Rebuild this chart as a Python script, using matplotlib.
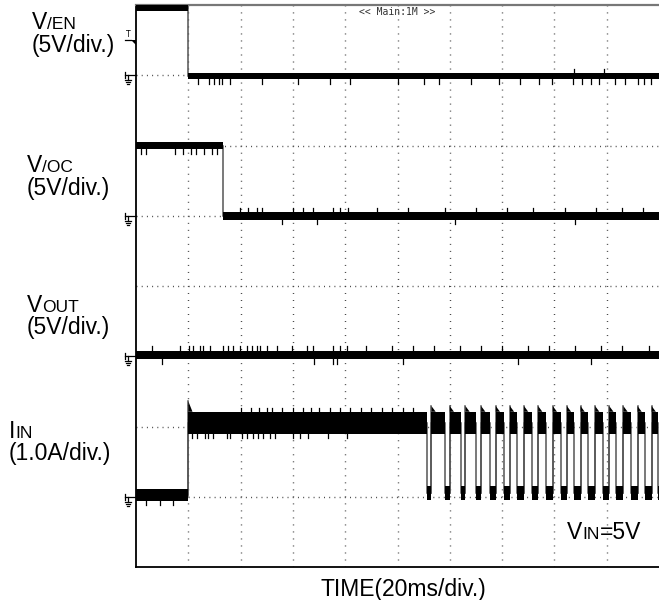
import matplotlib
matplotlib.use('Agg')
import matplotlib.pyplot as plt
import matplotlib.transforms as mtransforms

plt.rcParams['font.family'] = ['Liberation Sans', 'DejaVu Sans']

# scope screen: 10 x 8 divisions, time 20 ms/div, levels in divisions from the bottom
en_edges = [1.0]
en_levels = [7.955, 6.985]
en_ground = 7

oc_edges = [1.67]
oc_levels = [5.995, 5.0]
oc_ground = 5

vout_edges = []
vout_levels = [3.02]
vout_ground = 3

iin_edges = [1.0, 5.56, 5.65, 5.91, 6.00, 6.21, 6.30, 6.50, 6.60, 6.77, 6.88,
             7.04, 7.15, 7.29, 7.42, 7.57, 7.69, 7.84, 7.97, 8.12, 8.24, 8.38,
             8.50, 8.65, 8.78, 8.92, 9.05, 9.18, 9.32, 9.46, 9.59, 9.73, 9.86, 9.98]
iin_start = 1.03     # before enable
iin_low = 1.05       # off part of the hiccup
iin_high = 2.055
iin_ground = 1
trigger_level = 7.5

# glitches on the traces (time in div)
en_spikes_dn = [1.18, 1.40, 1.50, 1.58, 1.65, 1.80, 2.40, 3.10, 3.70, 4.10, 5.00, 5.50,
                5.80, 6.40, 6.95, 7.35, 7.70, 7.95, 8.35, 8.52, 8.70, 8.85, 9.15, 9.35,
                9.60, 9.72, 9.85]
en_spikes_up = [8.37, 8.95]
oc_spikes_dn = [0.10, 0.20, 0.75, 0.90, 1.05, 1.15, 1.30, 1.45, 1.55, 2.79, 3.46, 6.1, 8.4]
oc_spikes_up = [1.99, 2.14, 2.31, 2.41, 3.00, 3.19, 3.38, 3.77, 3.90, 4.05, 4.6, 5.2,
                5.9, 6.5, 7.1, 7.6, 8.2, 8.8, 9.3, 9.7]
vout_spikes_up = [0.30, 0.84, 1.01, 1.09, 1.22, 1.28, 1.41, 1.66, 1.76, 1.85, 1.99, 2.12,
                  2.22, 2.31, 2.37, 2.50, 2.70, 2.98, 3.27, 3.38, 3.77, 3.90, 4.03, 4.4,
                  4.9, 5.3, 5.7, 6.2, 6.6, 7.0, 7.5, 7.9, 8.4, 8.9, 9.3, 9.8]
vout_spikes_dn = [0.50, 3.40, 3.77, 3.85, 5.1, 7.3, 8.7]
iin_spikes_up = [2.0, 2.2, 2.35, 2.5, 2.6, 2.8, 3.0, 3.2, 3.35, 3.5, 3.7, 3.9, 4.1, 4.3,
                 4.5, 4.7, 4.9, 5.1, 5.3]
iin_spikes_dn = [1.08, 1.17, 1.32, 1.38, 1.48, 1.74, 1.80, 2.03, 2.12, 2.24, 2.33, 2.43,
                 2.56, 2.66, 3.00, 3.14, 3.29, 3.67, 4.03, 0.2, 0.45, 0.7]

fig = plt.figure(figsize=(6.59, 6.0), dpi=100)
ax = fig.add_axes([136 / 659, 33 / 600, 523 / 659, 562 / 600])
ax.set_xlim(0, 10)
ax.set_ylim(0, 8)

ax.set_xticks(range(1, 10))
ax.set_yticks(range(1, 8))
ax.tick_params(length=0, labelbottom=False, labelleft=False)
ax.xaxis.grid(True, linestyle=(0, (0.7, 4.35)), color='#444444', lw=1.0)
ax.yaxis.grid(True, linestyle=(0, (0.7, 3.05)), color='#444444', lw=1.0)
ax.set_axisbelow(True)
ax.spines['right'].set_visible(False)
ax.spines['top'].set_color('#777777')
ax.spines['top'].set_linewidth(1.6)
ax.spines['left'].set_linewidth(1.3)
ax.spines['bottom'].set_linewidth(1.3)

EDGE = '#555555'


def level_at(edges, levels, t):
    i = 0
    while i < len(edges) and t >= edges[i]:
        i += 1
    return levels[i]


def draw_trace(edges, levels, halves, up=(), dn=(), spike=0.07):
    bounds = [0.0] + list(edges) + [10.0]
    for i, lv in enumerate(levels):
        ax.fill_between([bounds[i], bounds[i + 1]], lv - halves[i], lv + halves[i],
                        color='black', lw=0, zorder=3)
    for i, t in enumerate(edges):
        ax.plot([t, t], [levels[i], levels[i + 1]], color=EDGE, lw=1.1, zorder=2)
    hv = {lv: h for lv, h in zip(levels, halves)}
    for t in up:
        lv = level_at(edges, levels, t)
        ax.plot([t, t], [lv + hv[lv], lv + hv[lv] + spike], color='black', lw=0.9, zorder=3)
    for t in dn:
        lv = level_at(edges, levels, t)
        ax.plot([t, t], [lv - hv[lv], lv - hv[lv] - spike], color='black', lw=0.9, zorder=3)


draw_trace(en_edges, en_levels, [0.045, 0.045], en_spikes_up, en_spikes_dn, 0.06)
ax.plot([en_edges[0], en_edges[0]], [en_levels[0], 8], color=EDGE, lw=1.1)
draw_trace(oc_edges, oc_levels, [0.05, 0.055], oc_spikes_up, oc_spikes_dn, 0.06)
draw_trace(vout_edges, vout_levels, [0.055], vout_spikes_up, vout_spikes_dn, 0.07)

iin_levels = [iin_low if i % 2 == 0 else iin_high for i in range(len(iin_edges) + 1)]
iin_levels[0] = iin_start
iin_halves = [0.155 if lv == iin_high else (0.085 if lv == iin_start else 0.1)
              for lv in iin_levels]
draw_trace(iin_edges, iin_levels, iin_halves, iin_spikes_up, iin_spikes_dn, 0.06)

# overshoot at every rising edge of the current
for i, t in enumerate(iin_edges):
    if iin_levels[i + 1] == iin_high:
        top = iin_high + 0.155
        peak = 2.36 if i == 0 else 2.29
        ax.fill([t, t, t + 0.08], [top, peak, top], color='black', lw=0, zorder=3)
        ax.plot([t, t], [iin_levels[i], peak], color=EDGE, lw=1.1, zorder=2)

# ground and trigger markers left of the screen
blend = mtransforms.blended_transform_factory(ax.transAxes, ax.transData)
px = 1 / 523
py = 1 / 70.25
for g in [en_ground, oc_ground, vout_ground, iin_ground]:
    kw = dict(transform=blend, clip_on=False, color='black', lw=0.9)
    ax.plot([-11 * px, 0], [g, g], **kw)
    ax.plot([-11 * px, -11 * px], [g + 3 * py, g - 3 * py], **kw)
    ax.plot([-8 * px, -8 * px], [g, g - 5 * py], **kw)
    ax.plot([-11 * px, -5 * px], [g - 5 * py, g - 5 * py], **kw)
    ax.plot([-10 * px, -6 * px], [g - 7 * py, g - 7 * py], **kw)
    ax.plot([-9 * px, -7 * px], [g - 9 * py, g - 9 * py], **kw)
ax.text(-8 * px, trigger_level + 1 * py, 'T', transform=blend, fontsize=5.5,
        ha='center', va='bottom', family='DejaVu Sans')
ax.plot([-11 * px, -5 * px], [trigger_level, trigger_level], transform=blend,
        clip_on=False, color='black', lw=0.9)
ax.fill([-5 * px, 0, 0], [trigger_level, trigger_level, trigger_level - 5 * py],
        transform=blend, clip_on=False, color='black', lw=0)

ax.text(5.0, 7.97, '<< Main:1M >>', fontsize=7, family='DejaVu Sans Mono',
        ha='center', va='top', color='#333333')

renderer = fig.canvas.get_renderer()


def rich(x, y, parts):
    for s, size in parts:
        t = fig.text(x / 659, 1 - y / 600, s, fontsize=size, va='baseline', ha='left')
        x += t.get_window_extent(renderer).width


BIG = 16.5
SMALL = 12.5
rich(32, 29, [('V', BIG), ('/EN', SMALL)])
rich(32, 52, [('(5V/div.)', BIG)])
rich(27, 172, [('V', BIG), ('/OC', SMALL)])
rich(27, 195, [('(5V/div.)', BIG)])
rich(27, 312, [('V', BIG), ('OUT', SMALL)])
rich(27, 334, [('(5V/div.)', BIG)])
rich(9, 438, [('I', BIG), ('IN', SMALL)])
rich(9, 460, [('(1.0A/div.)', BIG)])
rich(567, 539, [('V', BIG), ('IN', SMALL), ('=5V', BIG)])
fig.text(403 / 659, 1 - 596 / 600, 'TIME(20ms/div.)', fontsize=BIG, ha='center',
         va='baseline')

fig.savefig('out.png', dpi=100)
